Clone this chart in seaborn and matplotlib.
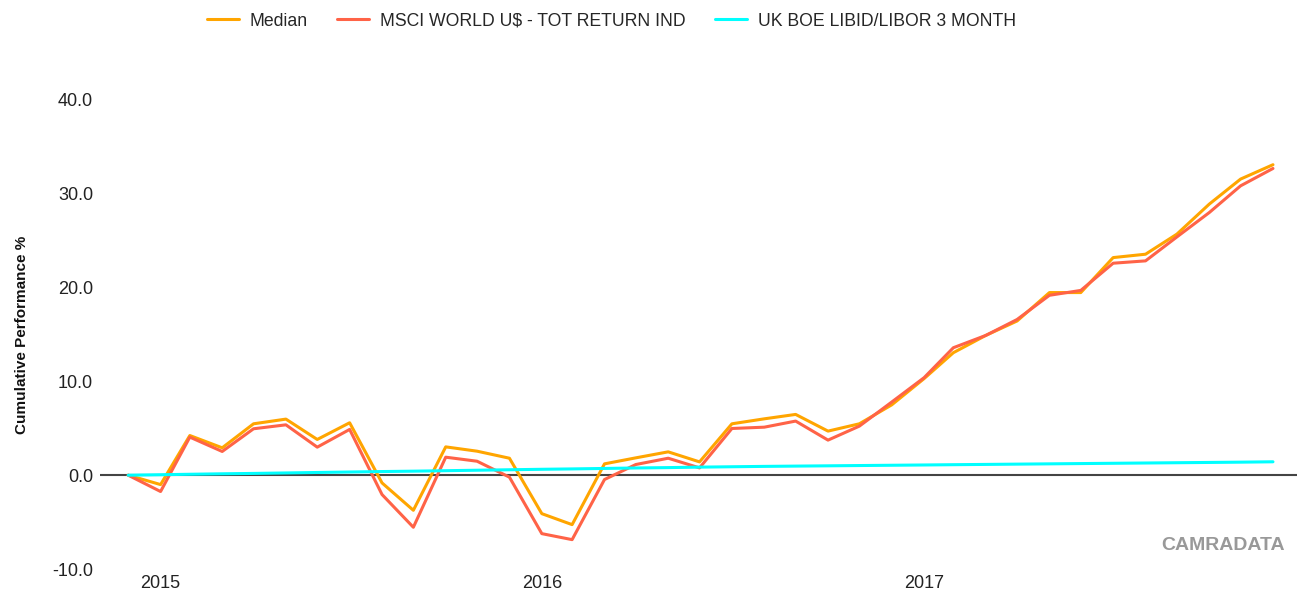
import pandas as pd
import matplotlib
matplotlib.use('Agg')
import matplotlib.pyplot as plt
import seaborn as sns

sns.set_theme(style='white')
plt.rcParams['font.family'] = ['Liberation Sans', 'DejaVu Sans']

# monthly points, Dec 2014 .. Dec 2017
fechas = pd.date_range('2014-12-31', periods=37, freq='ME')

median = [0.0, -1.0, 4.23, 2.92, 5.48, 5.98, 3.81, 5.59, -0.82, -3.74, 3.02, 2.56,
          1.81, -4.1, -5.27, 1.21, 1.85, 2.49, 1.42, 5.48, 6.01, 6.48, 4.70, 5.48,
          7.5, 10.3, 13.06, 14.9, 16.44, 19.47, 19.47, 23.2, 23.56, 25.7, 28.9, 31.57,
          33.1]
msci = [0.0, -1.74, 4.06, 2.53, 4.95, 5.37, 2.99, 4.88, -2.06, -5.55, 1.92, 1.49,
        -0.21, -6.23, -6.87, -0.46, 1.14, 1.81, 0.78, 4.98, 5.12, 5.77, 3.74, 5.23,
        7.8, 10.4, 13.59, 14.9, 16.6, 19.18, 19.7, 22.6, 22.85, 25.4, 28.0, 30.85,
        32.7]
libor = [0.0, 0.05, 0.10, 0.15, 0.19, 0.24, 0.29, 0.34, 0.39, 0.43, 0.48, 0.53,
         0.58, 0.63, 0.67, 0.72, 0.77, 0.81, 0.86, 0.90, 0.94, 0.97, 1.00, 1.03,
         1.06, 1.09, 1.12, 1.15, 1.18, 1.21, 1.24, 1.27, 1.30, 1.33, 1.36, 1.39,
         1.43]

series = ['Median', 'MSCI WORLD U$ - TOT RETURN IND', 'UK BOE LIBID/LIBOR 3 MONTH']
colores = ['#FFA500', '#FF6347', '#00FFFF']
year_ticks = ['2015-01-31', '2016-01-31', '2017-01-31']
year_labels = ['2015', '2016', '2017']

df = pd.DataFrame({'fecha': list(fechas) * 3,
                   'valor': median + msci + libor,
                   'serie': [series[0]] * 37 + [series[1]] * 37 + [series[2]] * 37})

fig = plt.figure(figsize=(12.97, 5.99), dpi=100)
ax = fig.add_axes([100 / 1297, 30 / 599, 1197 / 1297, 469 / 599])

ax.axhline(0, color='#444444', lw=1.5, zorder=1)
sns.lineplot(data=df, x='fecha', y='valor', hue='serie', hue_order=series,
             palette=colores, linewidth=2.2, ax=ax, zorder=3)

ax.set_ylim(-10, 40)
ax.set_xlim(fechas[0] - pd.Timedelta(days=27), fechas[-1] + pd.Timedelta(days=23))
ax.set_yticks([-10, 0, 10, 20, 30, 40])
ax.set_yticklabels(['%.1f' % v for v in [-10, 0, 10, 20, 30, 40]], fontsize=13, color='#222222')
ax.set_xticks(pd.to_datetime(year_ticks))
ax.set_xticklabels(year_labels, fontsize=13, color='#222222')
ax.tick_params(axis='both', length=0)
ax.tick_params(axis='y', pad=5)
ax.tick_params(axis='x', pad=4)
for s in ax.spines.values():
    s.set_visible(False)

ax.set_xlabel('')
ax.set_ylabel('Cumulative Performance %', fontsize=11, fontweight='bold', color='#111111')
ax.yaxis.set_label_coords(-0.059, 0.5)

handles, labels = ax.get_legend_handles_labels()
ax.get_legend().remove()
fig.legend(handles, labels, loc='center left', bbox_to_anchor=(207 / 1297, 1 - 21 / 599),
           ncol=3, frameon=False, fontsize=12.7, handlelength=1.8, handletextpad=0.6,
           columnspacing=1.7, borderpad=0, borderaxespad=0)

fig.text(1285 / 1297, 1 - 546 / 599, 'CAMRADATA', ha='right', va='center',
         fontsize=14, fontweight='bold', color='#999999')

fig.savefig('out.png', dpi=100)
